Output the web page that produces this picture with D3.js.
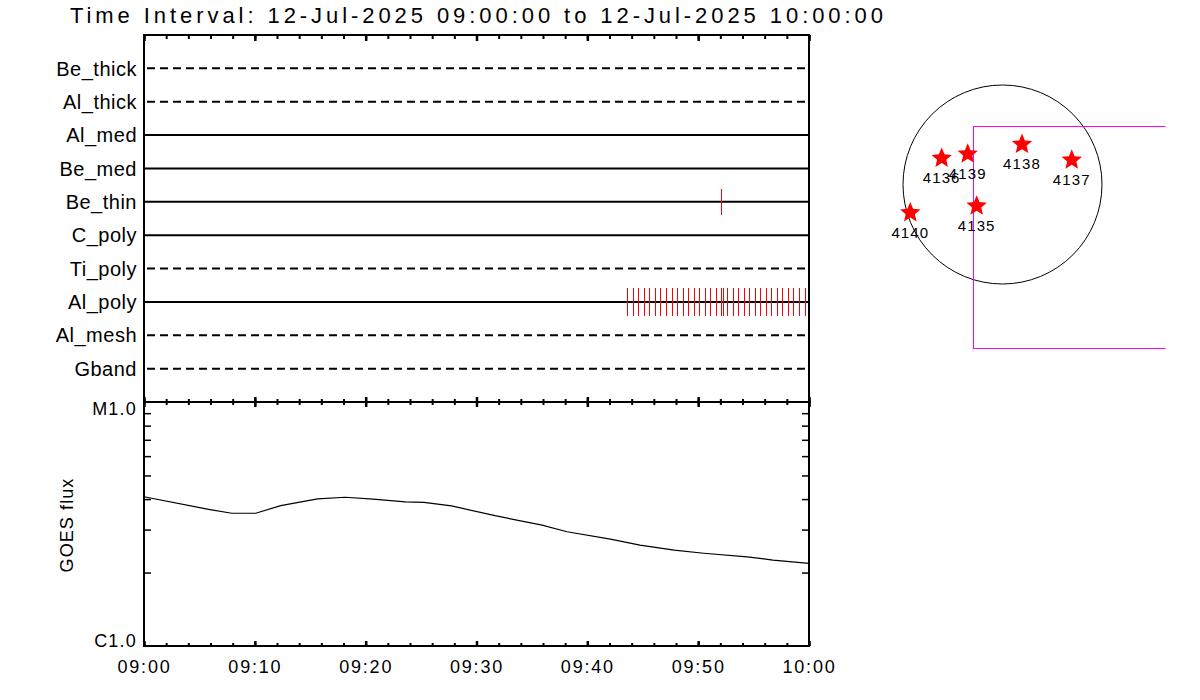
<!DOCTYPE html>
<html><head><meta charset="utf-8">
<script src="https://cdn.jsdelivr.net/npm/d3@7"></script>
<style>
body{margin:0;background:#fff;}
svg{display:block;background:#fff;}
text{font-family:"Liberation Sans",Arial,sans-serif;fill:#000;}
</style></head><body>
<svg id="c" width="1200" height="700"></svg>
<script>
// ---------------- data ----------------
const titleText = "Time Interval: 12-Jul-2025 09:00:00 to 12-Jul-2025 10:00:00";
const day = "2025-07-12 ";
const timeStart = "09:00:00", timeEnd = "10:00:00";

const channels = ["Be_thick","Al_thick","Al_med","Be_med","Be_thin","C_poly","Ti_poly","Al_poly","Al_mesh","Gband"];
const channelActive = [false,false,true,true,true,true,false,true,false,false];

const alPolyTimes = ["09:43:36","09:44:06","09:44:36","09:45:06","09:45:36","09:46:06","09:46:36","09:47:06",
  "09:47:36","09:48:06","09:48:36","09:49:06","09:49:36","09:50:06","09:50:36","09:51:06","09:51:36",
  "09:52:06","09:52:16","09:52:36","09:53:06","09:53:36","09:54:06","09:54:36","09:55:06","09:55:36",
  "09:56:06","09:56:36","09:57:06","09:57:36","09:58:06","09:58:36","09:59:06","09:59:36"];
const beThinTimes = ["09:52:06"];

const goesTimes = ["09:00:00","09:05:50","09:07:55","09:10:05","09:12:20","09:15:40","09:18:10","09:20:40",
  "09:23:35","09:25:15","09:27:45","09:31:40","09:35:55","09:38:10","09:42:05","09:44:45","09:47:50",
  "09:50:30","09:54:25","09:56:45","10:00:00"];
const goesFlux = [4.09e-6,3.63e-6,3.50e-6,3.50e-6,3.76e-6,4.01e-6,4.07e-6,4.00e-6,
  3.90e-6,3.88e-6,3.75e-6,3.42e-6,3.13e-6,2.94e-6,2.74e-6,2.59e-6,2.47e-6,
  2.40e-6,2.32e-6,2.25e-6,2.18e-6];

const yTickValues = [1e-6, 1e-5];
const yTickLabels = ["C1.0", "M1.0"];
const yAxisTitle = "GOES flux";

// solar map (arcsec)
const solarRadius = 944;
const arNames = ["4136","4139","4138","4137","4140","4135"];
const arX = [-577,-330,185,657,-875,-245];
const arY = [249,289,381,232,-268,-204];
const fovX = [-280, 1600];
const fovY = [-1551, 555];

// ---------------- layout ----------------
const svg = d3.select("#c");
const X0 = 144, X1 = 809, YT = 35, YM = 402, YB = 646;
const parse = d3.utcParse("%Y-%m-%d %H:%M:%S");
const x = d3.scaleUtc().domain([parse(day+timeStart), parse(day+timeEnd)]).range([X0, X1]);
const yCh = d3.scalePoint().domain(channels).range([YT, YM]).padding(1);
const yG = d3.scaleLog().domain([1e-6, 1e-5]).range([YB, YM]);

// title
svg.append("text").attr("x", 70).attr("y", 23).attr("font-size", 22)
  .attr("textLength", 813).attr("lengthAdjust", "spacing").text(titleText);

// channel lines
svg.append("g").selectAll("line").data(channels).join("line")
  .attr("x1", X0).attr("x2", X1 - 1)
  .attr("y1", d => yCh(d)).attr("y2", d => yCh(d))
  .attr("stroke", "#000").attr("stroke-width", 2)
  .attr("stroke-dasharray", (d, i) => channelActive[i] ? null : "8,5")
  .attr("stroke-dashoffset", 10);

// channel labels
svg.append("g").selectAll("text").data(channels).join("text")
  .attr("x", 137).attr("y", d => yCh(d)).attr("dy", "0.36em")
  .attr("text-anchor", "end").attr("font-size", 20).attr("letter-spacing", 0.5)
  .text(d => d);

// exposure ticks
function exposures(times, ch, half) {
  svg.append("g").attr("shape-rendering", "crispEdges")
    .selectAll("line").data(times).join("line")
    .attr("x1", d => Math.round(x(parse(day+d))) + 0.5)
    .attr("x2", d => Math.round(x(parse(day+d))) + 0.5)
    .attr("y1", yCh(ch) - half).attr("y2", yCh(ch) + half)
    .attr("stroke", "#ff0000").attr("stroke-width", 1);
}
exposures(alPolyTimes, "Al_poly", 14);
exposures(beThinTimes, "Be_thin", 13);

// GOES curve
const line = d3.line().x(d => x(parse(day+d[0]))).y(d => yG(d[1]));
svg.append("path").datum(goesTimes.map((t, i) => [t, goesFlux[i]]))
  .attr("d", line).attr("fill", "none").attr("stroke", "#000").attr("stroke-width", 1.2);

// time ticks
const minorI = d3.utcMinute.every(2), majorI = d3.utcMinute.every(10);
function tickRow(axisFn, y, size, interval, w) {
  svg.append("g").attr("transform", `translate(0,${y})`)
    .call(axisFn(x).ticks(interval).tickSize(size).tickSizeOuter(0).tickFormat(""))
    .call(g => { g.select(".domain").remove(); g.selectAll("line").attr("stroke", "#000").attr("stroke-width", w); });
}
tickRow(d3.axisBottom, YT, 4, minorI, 2);
tickRow(d3.axisBottom, YT, 6, majorI, 2.5);
tickRow(d3.axisBottom, YM, 3, minorI, 2);
tickRow(d3.axisTop, YM, 3, minorI, 2);
tickRow(d3.axisBottom, YM, 5, majorI, 2.5);
tickRow(d3.axisTop, YM, 5, majorI, 2.5);
tickRow(d3.axisTop, YB, 3, minorI, 2);
tickRow(d3.axisTop, YB, 5, majorI, 2.5);

// time labels
svg.append("g").attr("transform", `translate(0,${YB})`)
  .call(d3.axisBottom(x).ticks(majorI).tickSize(0).tickPadding(14).tickFormat(d3.utcFormat("%H:%M")))
  .call(g => { g.select(".domain").remove();
    g.selectAll("text").attr("font-size", 18).attr("letter-spacing", 1.8)
      .attr("font-family", '"Liberation Sans",Arial,sans-serif').attr("fill", "#000"); });

// flux minor ticks
const minorFlux = yG.ticks().filter(v => v > 1e-6 * 1.01 && v < 1e-5 * 0.99);
svg.append("g").attr("transform", `translate(${X0},0)`)
  .call(d3.axisRight(yG).tickValues(minorFlux).tickSize(7).tickSizeOuter(0).tickFormat(""))
  .call(g => { g.select(".domain").remove(); g.selectAll("line").attr("stroke", "#000").attr("stroke-width", 1.5); });
svg.append("g").attr("transform", `translate(${X1},0)`)
  .call(d3.axisLeft(yG).tickValues(minorFlux).tickSize(7).tickSizeOuter(0).tickFormat(""))
  .call(g => { g.select(".domain").remove(); g.selectAll("line").attr("stroke", "#000").attr("stroke-width", 1.5); });

// flux labels
svg.append("g").attr("transform", `translate(${X0},0)`)
  .call(d3.axisLeft(yG).tickValues(yTickValues).tickSize(0).tickPadding(7)
    .tickFormat((d, i) => yTickLabels[i]))
  .call(g => { g.select(".domain").remove();
    g.selectAll("text").attr("font-size", 18).attr("letter-spacing", 1.2)
      .attr("font-family", '"Liberation Sans",Arial,sans-serif').attr("fill", "#000")
      .attr("dy", d => d >= 1e-5 ? "0.72em" : "0em"); });

svg.append("text").attr("transform", `translate(73,525) rotate(-90)`)
  .attr("text-anchor", "middle").attr("font-size", 18).attr("letter-spacing", 1.1).text(yAxisTitle);

// frame
const frame = svg.append("g").attr("stroke", "#000").attr("stroke-width", 2).attr("fill", "none");
frame.append("rect").attr("x", X0).attr("y", YT).attr("width", X1 - X0).attr("height", YB - YT);
frame.append("line").attr("x1", X0).attr("x2", X1).attr("y1", YM).attr("y2", YM);

// ---------------- solar map ----------------
const xM = d3.scaleLinear().domain([-1000, 1000]).range([897.1, 1107.9]);
const yM = d3.scaleLinear().domain([-1000, 1000]).range([289.9, 79.1]);

svg.append("circle").attr("cx", xM(0)).attr("cy", yM(0)).attr("r", xM(solarRadius) - xM(0))
  .attr("fill", "none").attr("stroke", "#000").attr("stroke-width", 1);

svg.append("clipPath").attr("id", "mapclip").append("rect")
  .attr("x", 850).attr("y", 0).attr("width", 315.5).attr("height", 700);
svg.append("rect").attr("clip-path", "url(#mapclip)")
  .attr("x", Math.round(xM(fovX[0])) + 0.5).attr("y", Math.round(yM(fovY[1])) + 0.5)
  .attr("width", xM(fovX[1]) - xM(fovX[0])).attr("height", Math.round(yM(fovY[0]) - yM(fovY[1])))
  .attr("fill", "none").attr("stroke", "#ff00ff").attr("stroke-width", 1);

const starType = {
  draw(ctx, size) {
    const R = Math.sqrt(size), r = R * 0.45;
    for (let k = 0; k < 10; k++) {
      const a = -Math.PI / 2 + k * Math.PI / 5, rr = k % 2 ? r : R;
      const px = rr * Math.cos(a), py = rr * Math.sin(a);
      k ? ctx.lineTo(px, py) : ctx.moveTo(px, py);
    }
    ctx.closePath();
  }
};
const stars = svg.append("g");
stars.selectAll("path").data(arNames).join("path")
  .attr("transform", (d, i) => `translate(${xM(arX[i])},${yM(arY[i])})`)
  .attr("d", d3.symbol(starType, 115)).attr("fill", "#ff0000");
stars.selectAll("text").data(arNames).join("text")
  .attr("x", (d, i) => xM(arX[i])).attr("y", (d, i) => yM(arY[i]) + 25)
  .attr("text-anchor", "middle").attr("font-size", 15).attr("letter-spacing", 1.1).text(d => d);
</script>
</body></html>
